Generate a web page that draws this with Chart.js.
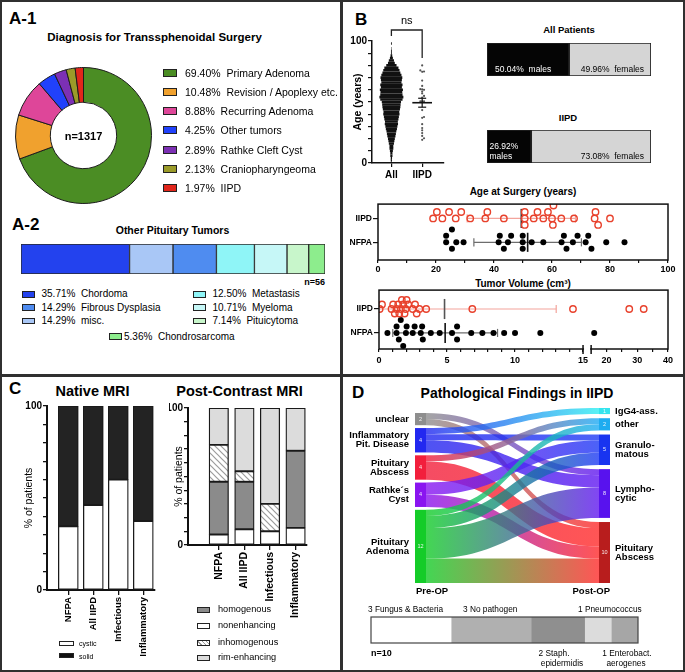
<!DOCTYPE html>
<html><head><meta charset="utf-8">
<script src="https://cdn.jsdelivr.net/npm/chart.js@4.4.1/dist/chart.umd.min.js"></script>
<style>
html,body{margin:0;padding:0;background:#fff;}
body{width:685px;height:672px;position:relative;overflow:hidden;font-family:"Liberation Sans",Arial,Helvetica,sans-serif;color:#000;}
.panel{position:absolute;border:2px solid #303030;box-sizing:border-box;}
canvas{position:absolute;}
.t{position:absolute;white-space:pre;line-height:1;}
.sq{position:absolute;border:1px solid #222;box-sizing:border-box;}
</style></head><body>
<div class="panel" style="left:0;top:0;width:342px;height:376px"></div>
<div class="panel" style="left:341px;top:0;width:344px;height:376px"></div>
<div class="panel" style="left:0;top:375px;width:342px;height:297px"></div>
<div class="panel" style="left:341px;top:375px;width:344px;height:297px"></div>
<script>
// ================= DATA =================
const donutLabels = ['Primary Adenoma','Revision / Apoplexy etc.','Recurring Adenoma','Other tumors','Rathke Cleft Cyst','Craniopharyngeoma','IIPD'];
const donutPct = [69.40, 10.48, 8.88, 4.25, 2.89, 2.13, 1.97];
const donutN = 1317;

const otherTumorLabels = ['Chordoma','misc.','Fibrous Dysplasia','Metastasis','Myeloma','Pituicytoma','Chondrosarcoma'];
const otherTumorPct = [35.71, 14.29, 14.29, 12.50, 10.71, 7.14, 5.36];
const otherTumorN = 56;
const otherTumorLegendOrder = ['Chordoma','Fibrous Dysplasia','misc.','Metastasis','Myeloma','Pituicytoma','Chondrosarcoma'];

// age distribution of all patients (2-year bins, approx. patient counts read from beeswarm width)
const allAgeBins   = [2,4,6,8,10,12,14,16,18,20,22,24,26,28,30,32,34,36,38,40,42,44,46,48,50,52,54,56,58,60,62,64,66,68,70,72,74,76,78,80,82,84,86,88,90,92,94,96,98];
const allAgeCounts = [3,3,5,5,7,9,9,12,14,16,19,21,23,26,28,31,30,33,35,38,37,40,42,43,45,52,56,52,51,54,49,52,47,49,51,47,42,38,33,24,16,12,7,4,2,2,1,0,2];
const ageGroups = ['All','IIPD'];

const compareGroups = ['NFPA','IIPD'];
const iipdAge = [19,20.3,22.2,24.5,26.8,28.7,31.8,37,37.7,43.4,50.6,50.6,50.6,53.7,55,57,58.6,60,60.3,60.5,63.2,67.6,74.7,75,75.9,80];
const nfpaAge = [23.5,23.5,25.5,25.5,27,29.5,41.6,42,43.4,44.8,45.9,49.9,49.9,49.9,53,57,63.3,64.1,65,67.2,68.8,71.6,72.5,73.6,78.7,85];
const ageTicks = [0,10,20,30,40,50,60,70,80,90,100];
const ageTickLabels = [0,20,40,60,80,100];

const iipdVolume = [0.05,0.22,0.92,1.04,1.16,1.29,1.41,1.49,1.61,1.68,1.78,1.88,1.96,2.03,2.15,2.48,2.65,2.77,2.97,3.47,6.86,14.26,27.4,32.1];
const nfpaVolume = [0.62,1.29,1.29,1.46,1.6,1.78,1.98,2.03,2.48,2.62,3.07,3.17,3.22,3.81,4.46,5.37,5.74,5.74,6.78,7.6,8.42,9.2,10,11.86,16];
const volumeTicks = [0,1,2,3,4,5,6,7,8,9,10,11,12,13,14,15,20,25,30,35,40];
const volumeTickLabels = [0,5,10,15,20,30,40];

const sexGroups = ['All Patients','IIPD'];
const malePct = [50.04, 26.92];
const femalePct = [49.96, 73.08];

const mriGroups = ['NFPA','All IIPD','Infectious','Inflammatory'];
const nativeCystic = [34.6, 46.2, 60.0, 37.5];
const nativeSolid  = [65.4, 53.8, 40.0, 62.5];
const postNonenhancing = [7.7, 11.5, 10, 12.5];
const postHomogenous   = [38.5, 34.6, 0, 56.25];
const postInhomogenous = [26.9, 7.7, 20, 0];
const postRimEnhancing = [26.9, 46.2, 70, 31.25];

const sankeyLeft  = ['unclear','Inflammatory\nPit. Disease','Pituitary\nAbscess','Rathke\u00b4s\nCyst','Pituitary\nAdenoma'];
const sankeyRight = ['IgG4-ass.','other','Granulo-\nmatous','Lympho-\ncytic','Pituitary\nAbscess'];
const flowFrom = [0,0,1,1,1,2,2,3,3,4,4,4,4];
const flowTo   = [3,4,0,2,3,1,4,2,4,1,2,3,4];
const flowN    = [1,1,1,1,2,1,3,2,2,1,2,5,4];
const sankeyStages = ['Pre-OP','Post-OP'];

const pathogenLabels = ['Fungus & Bacteria','No pathogen','Staph. epidermidis','Pneumococcus','Enterobact. aerogenes'];
const pathogenCounts = [3,3,2,1,1];

// ================= STYLE =================
const FONT = '"Liberation Sans", Arial, Helvetica, sans-serif';
Chart.defaults.font.family = FONT;
Chart.defaults.color = '#000';
Chart.defaults.animation = false;
Chart.defaults.responsive = false;
Chart.defaults.maintainAspectRatio = false;
Chart.defaults.events = [];
Chart.defaults.plugins.legend.display = false;
Chart.defaults.plugins.tooltip.enabled = false;

const donutColors = ['#4b8d24','#f0a12e','#de4699','#2141fb','#7c30b4','#9b9b29','#e1261b'];
const otherColors = ['#2342ee','#a9c7f6','#4f8cf0','#8ff5f7','#c6f7f7','#c8f6cb','#8ded8d'];
const leftColors = ['#8e8e8e','#2228f0','#f21f3c','#8a14f0','#14cc28'];
const rightColors = ['#34e4ee','#1eacf0','#1834f0','#5812ee','#b81d1d'];
const rightFlowColors = ['#30eef2','#1eacf5','#1f3af5','#6218f0','#ff2b2b'];

// ================= HELPERS =================
function mkCanvas(area, m) {
  const c = document.createElement('canvas');
  const w = area[2] + m.l + m.r, h = area[3] + m.t + m.b;
  c.width = w; c.height = h;
  c.style.left = (area[0] - m.l) + 'px'; c.style.top = (area[1] - m.t) + 'px';
  c.style.width = w + 'px'; c.style.height = h + 'px';
  document.body.appendChild(c);
  return c;
}
function T(x, y, s, o = {}) {
  const d = document.createElement('div'); d.className = 't';
  d.textContent = s;
  d.style.left = x + 'px'; d.style.top = y + 'px';
  d.style.fontSize = (o.size || 10) + 'px';
  if (o.bold) d.style.fontWeight = 'bold';
  if (o.color) d.style.color = o.color;
  const tx = o.align === 'c' ? '-50%' : o.align === 'r' ? '-100%' : '0';
  d.style.transform = `translate(${tx},-50%)`;
  document.body.appendChild(d);
}
function SQ(x, y, w, h, bg) {
  const d = document.createElement('div'); d.className = 'sq';
  d.style.left = x + 'px'; d.style.top = (y - h / 2) + 'px';
  d.style.width = w + 'px'; d.style.height = h + 'px';
  d.style.background = bg;
  document.body.appendChild(d);
}
function statsOf(a) {
  const n = a.length, m = a.reduce((s, v) => s + v, 0) / n;
  const sd = Math.sqrt(a.reduce((s, v) => s + (v - m) * (v - m), 0) / (n - 1));
  return { n, m, sd, sem: sd / Math.sqrt(n) };
}
const LEVELS = [0, 1, -1, 2, -2];
function dodge(vals, thr, step) {
  const order = vals.map((_, i) => i).sort((a, b) => vals[a] - vals[b]);
  const placed = LEVELS.map(() => []);
  const off = new Array(vals.length).fill(0);
  for (const i of order) {
    let best = 0, bestD = -1;
    for (let k = 0; k < LEVELS.length; k++) {
      const d = placed[k].reduce((mn, v) => Math.min(mn, Math.abs(v - vals[i])), Infinity);
      if (d >= thr) { best = k; break; }
      if (d > bestD) { bestD = d; best = k; }
    }
    placed[best].push(vals[i]); off[i] = LEVELS[best] * step;
  }
  return off;
}
function lineDs(pts, color, w) {
  return { data: pts, showLine: true, borderColor: color, borderWidth: w, pointRadius: 0, fill: false, clip: false };
}
function errorDatasets(st, y, lo, hi, barColor, meanColor, capH, meanH, capLo) {
  const out = [lineDs([{ x: st.m, y: y - meanH }, { x: st.m, y: y + meanH }], meanColor, 1.6),
               lineDs([{ x: lo, y }, { x: hi, y }], barColor, 1.2),
               lineDs([{ x: hi, y: y - capH }, { x: hi, y: y + capH }], barColor, 1.2)];
  if (capLo) out.push(lineDs([{ x: lo, y: y - capH }, { x: lo, y: y + capH }], barColor, 1.2));
  return out;
}
function framePlugin(lw, color) {
  return { id: 'frame', afterDraw(chart) {
    const { ctx, chartArea: a } = chart;
    ctx.save(); ctx.lineWidth = lw; ctx.strokeStyle = color;
    ctx.strokeRect(a.left, a.top, a.right - a.left, a.bottom - a.top);
    ctx.restore();
  } };
}
function hatchPattern() {
  const c = document.createElement('canvas'); c.width = 6; c.height = 6;
  const g = c.getContext('2d');
  g.fillStyle = '#fff'; g.fillRect(0, 0, 6, 6);
  g.strokeStyle = '#9c9c9c'; g.lineWidth = 1.2;
  g.beginPath(); g.moveTo(-1, -1); g.lineTo(7, 7); g.moveTo(-4, 2); g.lineTo(4, 10); g.moveTo(2, -4); g.lineTo(10, 4); g.stroke();
  return g.createPattern(c, 'repeat');
}

// broken linear scale for tumor volume
class BrokenLinearScale extends Chart.LinearScale {
  _dec(v) {
    const o = this.options, b = o.breakAt ?? 15, s = o.splitFrac ?? 0.7, g = o.gapFrac ?? 0.03;
    if (v <= b) return (v - this.min) / (b - this.min) * s;
    return s + g + (v - b) / (this.max - b) * (1 - s - g);
  }
  getPixelForValue(v) { return (v === null || v === undefined) ? NaN : this.getPixelForDecimal(this._dec(v)); }
  getValueForPixel(p) {
    const o = this.options, b = o.breakAt ?? 15, s = o.splitFrac ?? 0.7, g = o.gapFrac ?? 0.03;
    const d = this.getDecimalForPixel(p);
    return d <= s ? this.min + d / s * (b - this.min) : b + (d - s - g) / (1 - s - g) * (this.max - b);
  }
}
BrokenLinearScale.id = 'brokenLinear';
BrokenLinearScale.defaults = {};
Chart.register(BrokenLinearScale);

const tickFont = (size) => ({ size, weight: 'bold' });

// ================= PANEL A-1 : donut =================
T(9, 17.5, 'A-1', { size: 17, bold: true });
T(154.5, 37.5, 'Diagnosis for Transsphenoidal Surgery', { size: 11.5, bold: true, align: 'c' });
(() => {
  const cv = mkCanvas([15, 67, 137, 137], { l: 2, r: 2, t: 2, b: 2 });
  new Chart(cv, { type: 'doughnut',
    data: { labels: donutLabels, datasets: [{ data: donutPct, backgroundColor: donutColors, borderColor: '#1c1c1c', borderWidth: 1 }] },
    options: { cutout: '48.8%', layout: { padding: 2 } } });
  T(83.5, 135.5, 'n=' + donutN, { size: 11, bold: true, align: 'c' });
  donutLabels.forEach((lab, i) => {
    const y = 72.5 + i * 19.28;
    SQ(163, y, 13.5, 8, donutColors[i]);
    T(185, y, donutPct[i].toFixed(2) + '%  ' + lab, { size: 10.5 });
  });
})();

// ================= PANEL A-2 : stacked bar =================
T(12, 224, 'A-2', { size: 17, bold: true });
T(172.5, 230, 'Other Pituitary Tumors', { size: 10.5, bold: true, align: 'c' });
(() => {
  const cv = mkCanvas([21, 244, 304, 30], { l: 1, r: 1, t: 1, b: 1 });
  new Chart(cv, { type: 'bar',
    data: { labels: [''], datasets: otherTumorLabels.map((lab, i) => ({ label: lab, data: [otherTumorPct[i]], backgroundColor: otherColors[i], borderColor: '#2a2a2a', borderWidth: 1, borderSkipped: false, barPercentage: 1, categoryPercentage: 1 })) },
    options: { indexAxis: 'y', layout: { padding: 1 }, scales: { x: { display: false, stacked: true, min: 0, max: 100 }, y: { display: false, stacked: true } } } });
  T(325, 282, 'n=' + otherTumorN, { size: 9, bold: true, align: 'r' });
  const slots = [[22, 41.5, 294.3], [22, 41.5, 307.7], [22, 41.5, 321], [193, 212.5, 294.3], [193, 212.5, 307.7], [193, 212.5, 321], [108.5, 124, 336.7]];
  otherTumorLegendOrder.forEach((lab, k) => {
    const i = otherTumorLabels.indexOf(lab);
    const [bx, tx, y] = slots[k];
    SQ(bx, y, 13, 6.5, otherColors[i]);
    T(tx, y, otherTumorPct[i].toFixed(2) + '%  ' + lab, { size: 10 });
  });
})();

// ================= PANEL B : beeswarm =================
T(355, 19, 'B', { size: 17, bold: true });
(() => {
  const m = { l: 24, r: 5, t: 31, b: 22 };
  const cv = mkCanvas([372, 41, 81, 122], m);
  const st = statsOf(iipdAge);
  const offTop = dodge(iipdAge, 1.6, 0.06);
  const maxAll = Math.max(...allAgeBins.filter((a, i) => allAgeCounts[i] > 0));
  const maxI = Math.max(...iipdAge);
  const bracketTop = maxAll + 11;
  const nsPlugin = { id: 'ns', afterDraw(chart) {
    const { ctx, scales: { x, y } } = chart;
    ctx.save(); ctx.font = '11px ' + FONT; ctx.textAlign = 'center'; ctx.fillStyle = '#000';
    ctx.fillText('ns', (x.getPixelForValue(1) + x.getPixelForValue(2)) / 2, y.getPixelForValue(bracketTop) - 6);
    ctx.restore();
  } };
  new Chart(cv, { type: 'scatter',
    data: { datasets: [
      lineDs([{ x: 2 - 0.32, y: st.m }, { x: 2 + 0.32, y: st.m }], '#111', 1.6),
      lineDs([{ x: 2, y: st.m - st.sem }, { x: 2, y: st.m + st.sem }], '#111', 1.2),
      lineDs([{ x: 2 - 0.13, y: st.m - st.sem }, { x: 2 + 0.13, y: st.m - st.sem }], '#111', 1.2),
      lineDs([{ x: 2 - 0.13, y: st.m + st.sem }, { x: 2 + 0.13, y: st.m + st.sem }], '#111', 1.2),
      { data: iipdAge.map((v, i) => ({ x: 2 + offTop[i], y: v })), pointRadius: 1.1, pointBackgroundColor: '#555', pointBorderWidth: 0 },
      { data: allAgeBins.map(a => ({ x: 1, y: a })), pointStyle: 'line', pointRadius: c => allAgeCounts[c.dataIndex] * 0.214, pointBorderColor: '#111', pointBorderWidth: 2.6 },
      lineDs([{ x: 1, y: maxAll + 6 }, { x: 1, y: bracketTop }, { x: 2, y: bracketTop }, { x: 2, y: maxI + 6 }], '#222', 1.3)
    ] },
    options: { layout: { padding: { top: m.t, right: m.r } },
      scales: {
        x: { type: 'linear', min: 0.37, max: 2.69, afterBuildTicks: s => { s.ticks = ageGroups.map((g, i) => ({ value: i + 1 })); },
          ticks: { callback: v => ageGroups[Math.round(v) - 1], font: tickFont(10), padding: 2, autoSkip: false, maxRotation: 0 },
          grid: { drawOnChartArea: false, tickLength: 4, color: '#111', lineWidth: 1.2 }, border: { color: '#111', width: 1.5 }, afterFit: s => { s.height = m.b; } },
        y: { min: 0, max: 100, ticks: { stepSize: 10, autoSkip: false, callback: v => (v === 0 || v === 100) ? v : '', font: tickFont(10), padding: 1 },
          grid: { drawOnChartArea: false, tickLength: 4, color: '#111', lineWidth: 1.2 }, border: { color: '#111', width: 1.5 },
          title: { display: true, text: 'Age (years)', font: { size: 10.5, weight: 'bold' }, padding: { top: 4, bottom: 0 } }, afterFit: s => { s.width = m.l; } }
      } },
    plugins: [nsPlugin] });
})();

// ================= PANEL B : sex bars =================
T(569, 29.5, sexGroups[0], { size: 9.5, bold: true, align: 'c' });
T(568, 118, sexGroups[1], { size: 9.5, bold: true, align: 'c' });
sexGroups.forEach((g, i) => {
  const cv = mkCanvas([487, i === 0 ? 43 : 130, 164, 33], { l: 1, r: 1, t: 1, b: 1 });
  const plugin = { id: 'sexLabels', afterDatasetsDraw(chart) {
    const ctx = chart.ctx;
    const e0 = chart.getDatasetMeta(0).data[0], e1 = chart.getDatasetMeta(1).data[0];
    const bottom = e0.y + e0.height / 2;
    ctx.save(); ctx.font = '8.5px ' + FONT; ctx.textBaseline = 'alphabetic';
    const mTxt = malePct[i].toFixed(2) + '%  males';
    ctx.fillStyle = '#fff'; ctx.textAlign = 'left';
    if (ctx.measureText(mTxt).width + 14 < e0.x - e0.base) ctx.fillText(mTxt, e0.base + 8, bottom - 4);
    else { ctx.fillText(malePct[i].toFixed(2) + '%', e0.base + 2.5, bottom - 14); ctx.fillText('males', e0.base + 2.5, bottom - 4); }
    ctx.fillStyle = '#000'; ctx.textAlign = 'right';
    ctx.fillText(femalePct[i].toFixed(2) + '%  females', e1.x - 7, bottom - 4);
    ctx.restore();
  } };
  new Chart(cv, { type: 'bar',
    data: { labels: [g], datasets: [
      { data: [malePct[i]], backgroundColor: '#050505' },
      { data: [femalePct[i]], backgroundColor: '#d5d5d5' }
    ].map(d => Object.assign(d, { borderColor: '#222', borderWidth: 1.2, borderSkipped: false, barPercentage: 1, categoryPercentage: 1 })) },
    options: { indexAxis: 'y', layout: { padding: 1 }, scales: { x: { display: false, stacked: true, min: 0, max: 100 }, y: { display: false, stacked: true } } },
    plugins: [plugin] });
});

// ================= PANEL B : age at surgery =================
T(523, 192, 'Age at Surgery (years)', { size: 10, bold: true, align: 'c' });
(() => {
  const m = { l: 33, r: 14, t: 6, b: 15 };
  const cv = mkCanvas([378, 204, 290, 56], m);
  const sN = statsOf(nfpaAge), sI = statsOf(iipdAge);
  const offN = dodge(nfpaAge, 2.4, 0.27), offI = dodge(iipdAge, 2.4, 0.27);
  new Chart(cv, { type: 'scatter',
    data: { datasets: [
      { data: iipdAge.map((v, i) => ({ x: v, y: 2 + offI[i] })), pointRadius: 3.2, pointBackgroundColor: 'rgba(255,255,255,0)', pointBorderColor: '#e8412c', pointBorderWidth: 1.4 },
      { data: nfpaAge.map((v, i) => ({ x: v, y: 1 + offN[i] })), pointRadius: 3, pointBackgroundColor: '#000', pointBorderWidth: 0 },
      ...errorDatasets(sI, 2, sI.m - sI.sd, sI.m + sI.sd, '#f3a49c', '#333', 0.17, 0.4, true),
      ...errorDatasets(sN, 1, sN.m - sN.sd, sN.m + sN.sd, '#6d6d6d', '#111', 0.17, 0.4, true)
    ] },
    options: { layout: { padding: { top: m.t, right: m.r } },
      scales: {
        x: { min: 0, max: 100, afterBuildTicks: s => { s.ticks = ageTicks.map(v => ({ value: v })); },
          ticks: { autoSkip: false, maxRotation: 0, callback: v => ageTickLabels.includes(v) ? v : '', font: tickFont(9), padding: 1 },
          grid: { drawOnChartArea: false, tickLength: 3, color: '#111', lineWidth: 1.2 }, border: { display: false }, afterFit: s => { s.height = m.b; } },
        y: { min: 0.26, max: 2.6, afterBuildTicks: s => { s.ticks = compareGroups.map((g, i) => ({ value: i + 1 })); },
          ticks: { autoSkip: false, callback: v => compareGroups[Math.round(v) - 1], font: tickFont(8.5), padding: 1 },
          grid: { drawOnChartArea: false, tickLength: 5, color: '#111', lineWidth: 1.2 }, border: { display: false }, afterFit: s => { s.width = m.l; } }
      } },
    plugins: [framePlugin(1.5, '#111')] });
})();

// ================= PANEL B : tumor volume =================
T(523, 284, 'Tumor Volume (cm\u00b3)', { size: 10, bold: true, align: 'c' });
(() => {
  const m = { l: 34, r: 14, t: 6, b: 22 };
  const cv = mkCanvas([379, 290, 289, 59], m);
  const sN = statsOf(nfpaVolume), sI = statsOf(iipdVolume);
  const offN = dodge(nfpaVolume, 0.5, 0.27), offI = dodge(iipdVolume, 0.3, 0.19);
  const breakPlugin = { id: 'axisBreak', afterDraw(chart) {
    const { ctx, chartArea: a, scales: { x } } = chart;
    const o = x.options;
    const p1 = x.getPixelForValue(o.breakAt), p2 = x.getPixelForDecimal(o.splitFrac + o.gapFrac);
    ctx.save(); ctx.fillStyle = '#fff'; ctx.fillRect(p1 + 1, a.bottom - 2, p2 - p1 - 2, 4);
    ctx.strokeStyle = '#111'; ctx.lineWidth = 1.5; ctx.beginPath();
    ctx.moveTo(p1, a.bottom - 4); ctx.lineTo(p1, a.bottom + 5);
    ctx.moveTo(p2, a.bottom - 4); ctx.lineTo(p2, a.bottom + 5); ctx.stroke(); ctx.restore();
  } };
  const iLo = Math.max(0, sI.m - sI.sd), nLo = Math.max(0, sN.m - sN.sd);
  new Chart(cv, { type: 'scatter',
    data: { datasets: [
      { data: iipdVolume.map((v, i) => ({ x: v, y: 2 + offI[i] })), pointRadius: 3.2, pointBackgroundColor: 'rgba(255,255,255,0)', pointBorderColor: '#e8412c', pointBorderWidth: 1.4 },
      { data: nfpaVolume.map((v, i) => ({ x: v, y: 1 + offN[i] })), pointRadius: 3, pointBackgroundColor: '#000', pointBorderWidth: 0 },
      ...errorDatasets(sI, 2, iLo, sI.m + sI.sd, '#f3a49c', '#555', 0.17, 0.42, iLo > 0),
      ...errorDatasets(sN, 1, nLo, sN.m + sN.sd, '#6d6d6d', '#111', 0.17, 0.42, nLo > 0)
    ] },
    options: { layout: { padding: { top: m.t, right: m.r } },
      scales: {
        x: { type: 'brokenLinear', min: 0, max: 40, breakAt: 15, splitFrac: 0.706, gapFrac: 0.028,
          afterBuildTicks: s => { s.ticks = volumeTicks.map(v => ({ value: v })); },
          ticks: { autoSkip: false, maxRotation: 0, callback: v => volumeTickLabels.includes(v) ? v : '', font: tickFont(9), padding: 3 },
          grid: { drawOnChartArea: false, tickLength: 3, color: '#111', lineWidth: 1.2 }, border: { display: false }, afterFit: s => { s.height = m.b; } },
        y: { min: 0.33, max: 2.79, afterBuildTicks: s => { s.ticks = compareGroups.map((g, i) => ({ value: i + 1 })); },
          ticks: { autoSkip: false, callback: v => compareGroups[Math.round(v) - 1], font: tickFont(8.5), padding: 1 },
          grid: { drawOnChartArea: false, tickLength: 5, color: '#111', lineWidth: 1.2 }, border: { display: false }, afterFit: s => { s.width = m.l; } }
      } },
    plugins: [framePlugin(1.5, '#111'), breakPlugin] });
})();

// ================= PANEL C =================
T(9, 388, 'C', { size: 17, bold: true });
T(92.5, 391, 'Native MRI', { size: 14.5, bold: true, align: 'c' });
T(239.5, 391, 'Post-Contrast MRI', { size: 14.5, bold: true, align: 'c' });
function mriChart(area, m, xmin, xmax, barW, labelSize, datasets) {
  const cv = mkCanvas(area, m);
  new Chart(cv, { type: 'bar',
    data: { datasets: datasets.map(d => Object.assign({ borderColor: '#1a1a1a', borderWidth: 1.3, borderSkipped: false, barThickness: barW }, d)) },
    options: { layout: { padding: { top: m.t, right: m.r } },
      scales: {
        x: { type: 'linear', min: xmin, max: xmax, offset: false, stacked: true,
          afterBuildTicks: s => { s.ticks = mriGroups.map((g, i) => ({ value: i + 1 })); },
          ticks: { autoSkip: false, minRotation: 90, maxRotation: 90, callback: v => mriGroups[Math.round(v) - 1], font: tickFont(labelSize), padding: 2 },
          grid: { offset: false, drawOnChartArea: false, tickLength: 5, color: '#111', lineWidth: 1.3 }, border: { color: '#111', width: 2 }, afterFit: s => { s.height = m.b; } },
        y: { min: 0, max: 100, stacked: true, offset: false,
          ticks: { stepSize: 10, autoSkip: false, callback: v => (v === 0 || v === 100) ? v : '', font: tickFont(10), padding: 1 },
          grid: { drawOnChartArea: false, tickLength: 4, color: '#111', lineWidth: 1.3 }, border: { color: '#111', width: 2 },
          title: { display: true, text: '% of patients', font: { size: 10.5 }, padding: { top: 4, bottom: 0 } }, afterFit: s => { s.width = m.l; } }
      } } });
}
const pts = arr => mriGroups.map((g, i) => ({ x: i + 1, y: arr[i] }));
mriChart([47, 406, 108, 184], { l: 28, r: 5, t: 8, b: 66 }, 0.148, 4.468, 20, 9.5, [
  { label: 'cystic', data: pts(nativeCystic), backgroundColor: '#ffffff' },
  { label: 'solid', data: pts(nativeSolid), backgroundColor: '#232323' }
]);
const HATCH = hatchPattern();
mriChart([188, 408, 119, 137], { l: 19, r: 5, t: 8, b: 75 }, -0.203, 4.445, 19.5, 10.5, [
  { label: 'nonenhancing', data: pts(postNonenhancing), backgroundColor: '#ffffff' },
  { label: 'homogenous', data: pts(postHomogenous), backgroundColor: '#8b8b8b' },
  { label: 'inhomogenous', data: pts(postInhomogenous), backgroundColor: HATCH },
  { label: 'rim-enhancing', data: pts(postRimEnhancing), backgroundColor: '#dcdcdc' }
]);
// legends C
SQ(59, 643, 15, 5, '#ffffff'); T(79, 643, 'cystic', { size: 7 });
SQ(59, 655.7, 15, 5, '#111111'); T(79, 655.7, 'solid', { size: 7 });
[['homogenous', '#8b8b8b'], ['nonenhancing', '#ffffff'], ['inhomogenous', 'repeating-linear-gradient(45deg,#fff 0 2px,#999 2px 3px)'], ['rim-enhancing', '#dcdcdc']]
  .forEach(([lab, bg], k) => { const y = [609.5, 626, 642.7, 658.3][k]; SQ(197, y, 13, 6, bg); T(218, y, lab, { size: 9.2 }); });

// ================= PANEL D : sankey =================
T(352, 392, 'D', { size: 17, bold: true });
T(517, 393, 'Pathological Findings in IIPD', { size: 14, bold: true, align: 'c' });
(() => {
  const m = { l: 73, r: 72, t: 8, b: 17 };
  const cv = mkCanvas([415, 408, 195, 175], m);
  const sankeyPlugin = { id: 'sankey', afterDraw(chart) {
    const { ctx, scales: { x, y }, chartArea: a } = chart;
    const NW = 11;
    const lSize = sankeyLeft.map((_, i) => flowN.reduce((s, n, k) => s + (flowFrom[k] === i ? n : 0), 0));
    const rSize = sankeyRight.map((_, j) => flowN.reduce((s, n, k) => s + (flowTo[k] === j ? n : 0), 0));
    const stackTop = (sizes, start, gap) => { const t = []; let acc = start; sizes.forEach(s => { t.push(acc); acc += s + gap; }); return t; };
    const lTop = stackTop(lSize, 0.82, 0.47), rTop = stackTop(rSize, 0, 0.675);
    const xL0 = x.getPixelForValue(0), xL1 = xL0 + NW, xR1 = x.getPixelForValue(1), xR0 = xR1 - NW;
    const idx = flowN.map((_, k) => k);
    const sOff = lTop.slice(), tOff = rTop.slice(), sy = [], ty = [];
    idx.slice().sort((p, q) => flowFrom[p] - flowFrom[q] || flowTo[p] - flowTo[q]).forEach(k => { sy[k] = sOff[flowFrom[k]]; sOff[flowFrom[k]] += flowN[k]; });
    idx.slice().sort((p, q) => flowTo[p] - flowTo[q] || flowFrom[p] - flowFrom[q]).forEach(k => { ty[k] = tOff[flowTo[k]]; tOff[flowTo[k]] += flowN[k]; });
    const Y = v => y.getPixelForValue(v);
    ctx.save();
    ctx.globalAlpha = 0.8;
    const xm = (xL1 + xR0) / 2;
    idx.forEach(k => {
      const a0 = Y(sy[k]), a1 = Y(sy[k] + flowN[k]), b0 = Y(ty[k]), b1 = Y(ty[k] + flowN[k]);
      const g = ctx.createLinearGradient(xL1, 0, xR0, 0);
      g.addColorStop(0, leftColors[flowFrom[k]]); g.addColorStop(1, rightFlowColors[flowTo[k]]);
      ctx.fillStyle = g;
      ctx.beginPath(); ctx.moveTo(xL1, a0); ctx.bezierCurveTo(xm, a0, xm, b0, xR0, b0); ctx.lineTo(xR0, b1);
      ctx.bezierCurveTo(xm, b1, xm, a1, xL1, a1); ctx.closePath(); ctx.fill();
    });
    ctx.globalAlpha = 1;
    const drawNode = (x0, t, s, color, label, side) => {
      const y0 = Y(t), y1 = Y(t + s), yc = (y0 + y1) / 2;
      ctx.fillStyle = color; ctx.fillRect(x0, y0, NW, y1 - y0);
      ctx.fillStyle = 'rgba(255,255,255,0.9)'; ctx.font = '5.5px ' + FONT; ctx.textAlign = 'center'; ctx.textBaseline = 'middle';
      ctx.fillText(String(s), x0 + NW / 2, yc);
      ctx.fillStyle = '#000'; ctx.font = 'bold 9.5px ' + FONT;
      const lines = label.split('\n'), lh = 9;
      ctx.textAlign = side === 'l' ? 'right' : 'left';
      const tx = side === 'l' ? x0 - 6 : x0 + NW + 5;
      lines.forEach((ln, q) => ctx.fillText(ln, tx, yc + (q - (lines.length - 1) / 2) * lh));
    };
    lSize.forEach((s, i) => drawNode(xL0, lTop[i], s, leftColors[i], sankeyLeft[i], 'l'));
    rSize.forEach((s, j) => drawNode(xR0, rTop[j], s, rightColors[j], sankeyRight[j], 'r'));
    ctx.font = 'bold 9.5px ' + FONT; ctx.fillStyle = '#000'; ctx.textBaseline = 'middle';
    ctx.textAlign = 'left'; ctx.fillText(sankeyStages[0], xL0 + 1, a.bottom + 8);
    ctx.textAlign = 'right'; ctx.fillText(sankeyStages[1], xR1, a.bottom + 8);
    ctx.restore();
  } };
  new Chart(cv, { type: 'scatter', data: { datasets: [] },
    options: { layout: { padding: { left: m.l, right: m.r, top: m.t, bottom: m.b } },
      scales: { x: { display: false, min: 0, max: 1 }, y: { display: false, min: 0, max: 28.7, reverse: true } } },
    plugins: [sankeyPlugin] });
})();

// ================= PANEL D : pathogen bar =================
(() => {
  const cv = mkCanvas([371, 617, 267, 26], { l: 1, r: 1, t: 1, b: 1 });
  const colors = ['#ffffff', '#b0b0b0', '#8f8f8f', '#dcdcdc', '#a6a6a6'];
  const total = pathogenCounts.reduce((s, v) => s + v, 0);
  new Chart(cv, { type: 'bar',
    data: { labels: [''], datasets: pathogenLabels.map((lab, i) => ({ label: lab, data: [pathogenCounts[i]], backgroundColor: colors[i], borderWidth: 0, barPercentage: 1, categoryPercentage: 1 })) },
    options: { indexAxis: 'y', layout: { padding: 1 }, scales: { x: { display: false, stacked: true, min: 0, max: total }, y: { display: false, stacked: true } } },
    plugins: [framePlugin(1.2, '#444')] });
  T(368, 609, pathogenCounts[0] + ' ' + pathogenLabels[0], { size: 8.3 });
  T(463, 609, pathogenCounts[1] + ' ' + pathogenLabels[1], { size: 8.3 });
  T(578, 609, pathogenCounts[3] + ' ' + pathogenLabels[3], { size: 8.3 });
  T(554, 653, pathogenCounts[2] + ' Staph.', { size: 8.3, align: 'c' });
  T(562, 662.5, 'epidermidis', { size: 8.3, align: 'c' });
  T(627, 653, pathogenCounts[4] + ' Enterobact.', { size: 8.3, align: 'c' });
  T(626, 662.5, 'aerogenes', { size: 8.3, align: 'c' });
  T(371, 653, 'n=' + total, { size: 9, bold: true });
})();
</script></body></html>
